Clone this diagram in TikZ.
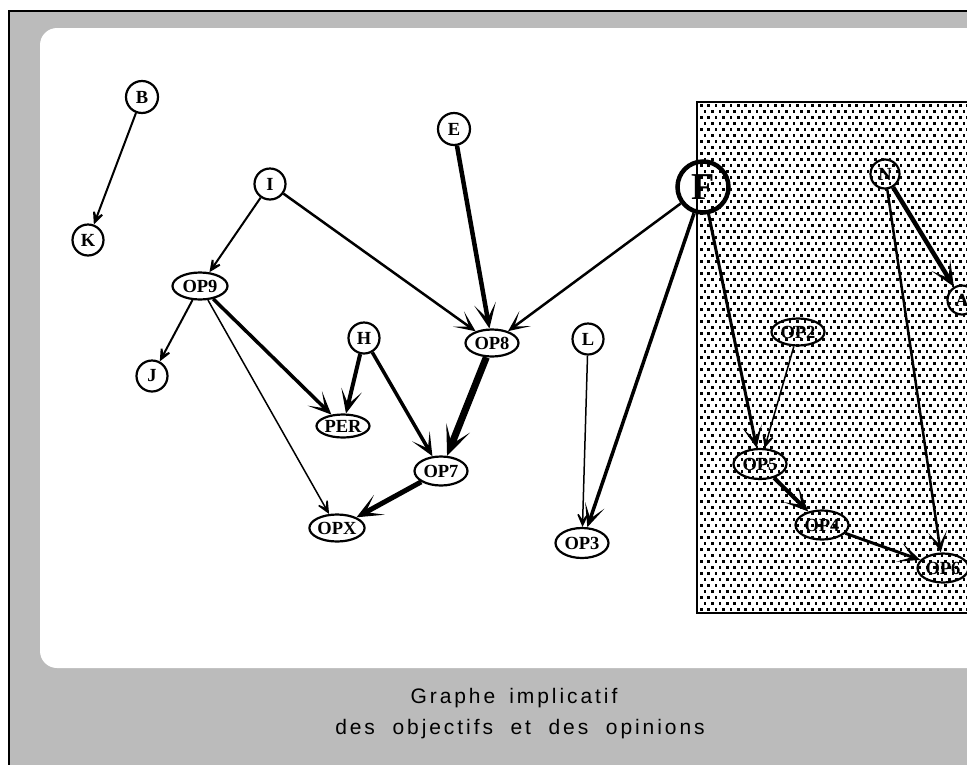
\documentclass[tikz,border=0pt]{standalone}
\usepackage{fontspec}
\setmainfont{Liberation Serif}
\newfontfamily\capfont[LetterSpace=14]{Liberation Sans}
\usetikzlibrary{arrows.meta,shapes.geometric}
\definecolor{bg}{RGB}{187,187,187}
\begin{document}
\begin{tikzpicture}[x=1pt,y=-1pt,
  lbl/.style={font=\fontsize{18.5}{18.5}\selectfont\bfseries},
  cnode/.style={lbl,circle,draw,line width=2.2pt,minimum size=31pt,inner sep=0pt},
  enode/.style={lbl,ellipse,draw,line width=2.2pt,minimum width=53pt,minimum height=27pt,inner sep=0pt},
  edge/.style={-{Stealth[length=16pt 2,width=15pt 1.5,inset=10.5pt 1]}},
  capt/.style={font=\capfont\fontsize{21}{21}\selectfont,anchor=base,inner sep=0pt}
]
\useasboundingbox (0,0) rectangle (967,764);
\clip (0,0) rectangle (967,764);
% frame
\fill[bg] (9,11) rectangle (990,790);
\draw[line width=2.5pt] (9,790) |- (990,11);
\fill[white,rounded corners=17pt] (40,28) rectangle (1010,668);
% dotted area
\begin{scope}
\clip (698,103) rectangle (967,612);
\foreach \r in {0,...,85}{
  \pgfmathsetmacro\yy{104+\r*6}
  \pgfmathsetmacro\xo{700+mod(\r,2)*3.7}
  \foreach \c in {0,...,36}{
    \fill (\xo+\c*7.4,\yy) rectangle ++(2.6,2.6);
  }
}
\end{scope}
\draw[line width=2pt] (697,102) rectangle (1000,613);
% nodes
\node[cnode,minimum size=32pt] (B) at (142,97) {B};
\node[cnode] (K) at (88,240) {K};
\node[cnode] (I) at (270,184) {I};
\node[enode,minimum width=55pt] (OP9) at (200,286) {OP9};
\node[cnode] (J) at (152,376) {J};
\node[cnode] (H) at (364,338) {H};
\node[enode,minimum height=23pt] (PER) at (343,426) {PER};
\node[enode] (OP8) at (492,343) {OP8};
\node[enode,minimum height=29pt] (OP7) at (441,471) {OP7};
\node[enode] (OPX) at (337,528) {OPX};
\node[cnode,minimum size=32pt] (E) at (454,129) {E};
\node[cnode] (L) at (588,339) {L};
\node[enode,minimum height=30pt] (OP3) at (582,543) {OP3};
\node[circle,draw,line width=4.5pt,minimum size=51pt,inner sep=0pt,font=\fontsize{38}{38}\selectfont\bfseries] (F) at (703,187) {F};
\node[cnode,minimum size=29pt] (N) at (885,174) {N};
\node[cnode,minimum size=29pt] (A) at (962,300) {A};
\node[enode] (OP2) at (798,332) {OP2};
\node[enode,minimum height=30pt] (OP5) at (760,464) {OP5};
\node[enode,minimum height=29pt] (OP4) at (822,525) {OP4};
\node[enode,minimum width=51pt,minimum height=29pt] (OP6) at (943,568) {OP6};
% edges
\draw[edge,line width=2pt] (B) -- (K);
\draw[edge,line width=2pt] (I) -- (OP9);
\draw[edge,line width=2.5pt] (I) -- (OP8);
\draw[edge,line width=2pt] (OP9) -- (J);
\draw[edge,line width=3.5pt] (OP9) -- (PER);
\draw[edge,line width=1.5pt] (OP9) -- (OPX);
\draw[edge,line width=4pt] (H) -- (PER);
\draw[edge,line width=3.5pt] (H) -- (OP7);
\draw[edge,line width=4.5pt] (E) -- (OP8);
\draw[edge,line width=7pt] (OP8) -- (OP7);
\draw[edge,line width=5pt] (OP7) -- (OPX);
\draw[edge,line width=2.5pt] (F) -- (OP8);
\draw[edge,line width=3.5pt] (F) -- (OP3);
\draw[edge,line width=1.5pt] (L) -- (OP3);
\draw[edge,line width=3pt] (F) -- (OP5);
\draw[edge,line width=1.5pt] (OP2) -- (OP5);
\draw[edge,line width=4.5pt] (N) -- (A);
\draw[edge,line width=2.5pt] (N) -- (OP6);
\draw[edge,line width=4pt] (OP5) -- (OP4);
\draw[edge,line width=3pt] (OP4) -- (OP6);
% caption
\node[capt] (cap1) at (514,703) {Graphe\hspace{14pt}implicatif};
\node[capt] (cap2) at (520,734) {des\ \ objectifs\ \ et\ \ des\ \ opinions};
\end{tikzpicture}
\end{document}
